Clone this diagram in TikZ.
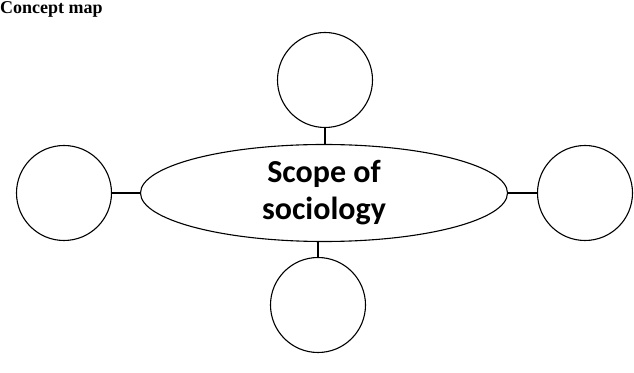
\documentclass[tikz,border=0pt]{standalone}
\usepackage{fontspec}
\setmainfont{Liberation Serif}
\newfontfamily\calib{Carlito}
\usetikzlibrary{shapes.geometric}
\begin{document}
\begin{tikzpicture}[x=1pt,y=1pt,
  bubble/.style={draw,circle,line width=1.1pt,minimum size=95pt,inner sep=0pt},
  hub/.style={draw,ellipse,line width=1.1pt,minimum width=367pt,minimum height=97pt,inner sep=0pt,align=center,font=\calib\bfseries\fontsize{32}{37}\selectfont},
  link/.style={line width=1.1pt}]
\useasboundingbox (0,0) rectangle (634,372);
\node[anchor=north west,font=\bfseries\fontsize{18}{20}\selectfont,inner sep=0pt] (title) at (0,371) {Concept map};
\node[hub] (c) at (324,179) {Scope of\\sociology};
\node[bubble] (t) at (325,292) {};
\node[bubble] (l) at (64,179) {};
\node[bubble] (r) at (585,179) {};
\node[bubble] (b) at (318,67) {};
\draw[link] (t.south) -- (c.north -| t.south);
\draw[link] (l.east) -- (c.west);
\draw[link] (r.west) -- (c.east);
\draw[link] (b.north) -- (b.north |- c.south);
\end{tikzpicture}
\end{document}
